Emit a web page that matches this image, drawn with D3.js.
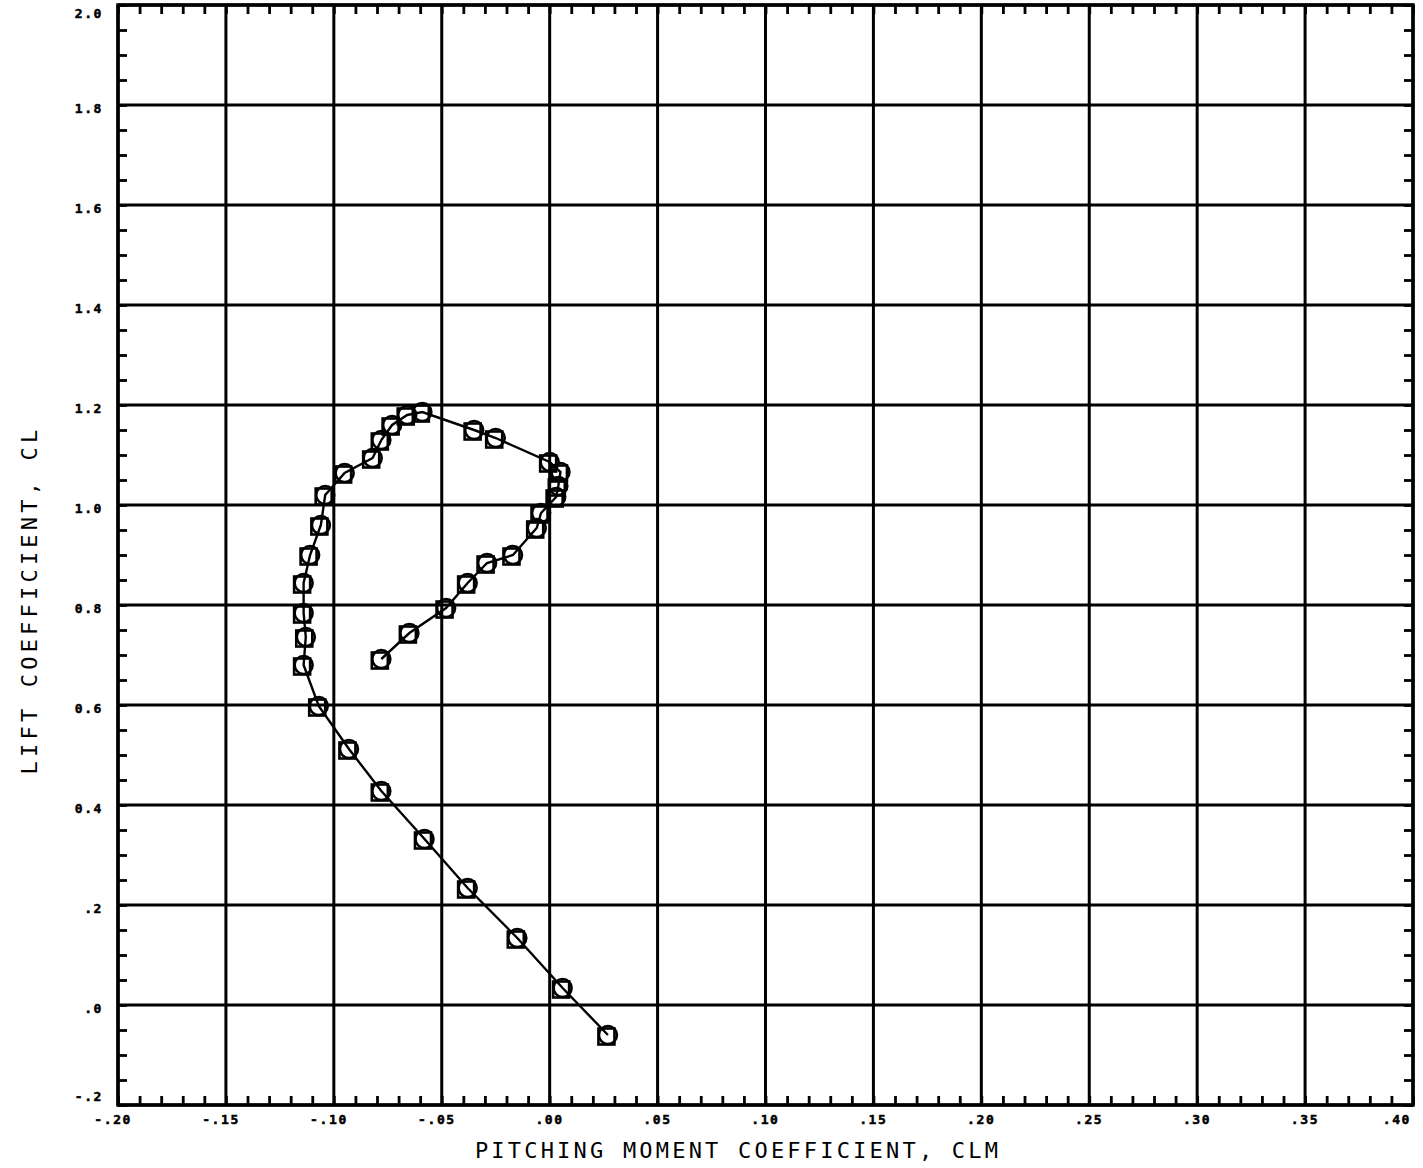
<!DOCTYPE html>
<html>
<head>
<meta charset="utf-8">
<script src="https://cdn.jsdelivr.net/npm/d3@7"></script>
<style>
  html, body { margin: 0; padding: 0; background: #fff; }
  svg { display: block; }
  .tickLabel { font-family: "DejaVu Sans Mono", monospace; font-weight: bold; font-size: 13px; letter-spacing: 1.6px; fill: #000; stroke: #000; stroke-width: 0.5px; }
  .axisTitle { font-family: "DejaVu Sans Mono", monospace; font-size: 22px; fill: #000; }
</style>
</head>
<body>
<div id="chart"></div>
<script>
// pitching moment (CLM) vs lift (CL), in plotting order
const clm = [0.027, 0.006, -0.015, -0.038, -0.058, -0.078, -0.093, -0.107, -0.114, -0.113,
  -0.114, -0.114, -0.111, -0.106, -0.104, -0.095, -0.082, -0.078, -0.073, -0.066,
  -0.059, -0.035, -0.025, 0.000, 0.005, 0.004, 0.003, -0.004, -0.006, -0.017,
  -0.029, -0.038, -0.048, -0.065, -0.078];
const cl = [-0.060, 0.034, 0.134, 0.234, 0.332, 0.428, 0.512, 0.598, 0.680, 0.736,
  0.784, 0.844, 0.900, 0.960, 1.020, 1.064, 1.094, 1.130, 1.160, 1.180,
  1.186, 1.150, 1.134, 1.086, 1.066, 1.038, 1.016, 0.984, 0.954, 0.900,
  0.884, 0.844, 0.794, 0.744, 0.692];

const xTicks = [-0.20, -0.15, -0.10, -0.05, 0.00, 0.05, 0.10, 0.15, 0.20, 0.25, 0.30, 0.35, 0.40];
const xTickLabels = ["-.20", "-.15", "-.10", "-.05", ".00", ".05", ".10", ".15", ".20", ".25", ".30", ".35", ".40"];
const yTicks = [-0.2, 0.0, 0.2, 0.4, 0.6, 0.8, 1.0, 1.2, 1.4, 1.6, 1.8, 2.0];
const yTickLabels = ["-.2", ".0", ".2", "0.4", "0.6", "0.8", "1.0", "1.2", "1.4", "1.6", "1.8", "2.0"];

const margin = {top: 5, right: 10, bottom: 63, left: 118}
    , width = 1295
    , height = 1100;

const svg = d3.select("#chart").append("svg")
    .attr("width", 1423)
    .attr("height", 1168);

const g = svg.append("g")
    .attr("transform", `translate(${margin.left},${margin.top})`);

const x = d3.scaleLinear().domain([-0.20, 0.40]).range([0, width]);
const y = d3.scaleLinear().domain([-0.2, 2.0]).range([height, 0]);

// major grid
g.append("g").attr("class", "grid")
    .selectAll("line.v")
    .data(xTicks)
    .enter().append("line")
    .attr("x1", d => x(d)).attr("x2", d => x(d))
    .attr("y1", 0).attr("y2", height)
    .attr("stroke", "#000").attr("stroke-width", 3);

g.append("g").attr("class", "grid")
    .selectAll("line.h")
    .data(yTicks)
    .enter().append("line")
    .attr("x1", 0).attr("x2", width)
    .attr("y1", d => y(d)).attr("y2", d => y(d))
    .attr("stroke", "#000").attr("stroke-width", 3);

// minor ticks pointing inward on all four sides
const minorX = d3.range(-20, 41).map(i => i / 100);
const minorY = d3.range(-4, 41).map(i => i / 20);

function styleAxis(sel) {
    sel.select(".domain").remove();
    sel.selectAll("text").remove();
    sel.selectAll("line").attr("stroke", "#000").attr("stroke-width", 2.8);
}

g.append("g").attr("transform", `translate(0,${height})`)
    .call(d3.axisBottom(x).tickValues(minorX).tickSize(-9)).call(styleAxis);
g.append("g")
    .call(d3.axisTop(x).tickValues(minorX).tickSize(-9)).call(styleAxis);
g.append("g")
    .call(d3.axisLeft(y).tickValues(minorY).tickSize(-9)).call(styleAxis);
g.append("g").attr("transform", `translate(${width},0)`)
    .call(d3.axisRight(y).tickValues(minorY).tickSize(-9)).call(styleAxis);

// frame
g.append("rect")
    .attr("width", width).attr("height", height)
    .attr("fill", "none").attr("stroke", "#000").attr("stroke-width", 3.5);

// tick labels
g.append("g").selectAll("text")
    .data(xTicks)
    .enter().append("text")
    .attr("class", "tickLabel")
    .attr("x", (d, i) => x(d) + (i === xTicks.length - 1 ? -2 : 14))
    .attr("y", height + 19)
    .attr("text-anchor", "end")
    .text((d, i) => xTickLabels[i]);

g.append("g").selectAll("text")
    .data(yTicks)
    .enter().append("text")
    .attr("class", "tickLabel")
    .attr("x", -15)
    .attr("y", (d, i) => y(d) + (i === yTicks.length - 1 ? 13 : (i === 0 ? -4 : 8)))
    .attr("text-anchor", "end")
    .text((d, i) => yTickLabels[i]);

// axis titles
svg.append("text").attr("class", "axisTitle")
    .attr("x", 738).attr("y", 1158)
    .attr("text-anchor", "middle")
    .style("letter-spacing", "3.2px")
    .text("PITCHING MOMENT COEFFICIENT, CLM");

svg.append("text").attr("class", "axisTitle")
    .attr("transform", "translate(37,600) rotate(-90)")
    .attr("text-anchor", "middle")
    .style("letter-spacing", "4.2px")
    .text("LIFT COEFFICIENT, CL");

// data curve
const pts = clm.map((d, i) => [d, cl[i]]);
const line = d3.line().x(d => x(d[0])).y(d => y(d[1]));

g.append("path")
    .datum(pts)
    .attr("d", line)
    .attr("fill", "none")
    .attr("stroke", "#000")
    .attr("stroke-width", 2.4);

const marks = g.append("g").selectAll("g")
    .data(pts)
    .enter().append("g")
    .attr("transform", d => `translate(${x(d[0])},${y(d[1])})`);

marks.append("rect")
    .attr("x", -9.5).attr("y", -6.5)
    .attr("width", 16).attr("height", 16)
    .attr("fill", "none").attr("stroke", "#000").attr("stroke-width", 2.6);

marks.append("circle")
    .attr("r", 9)
    .attr("fill", "none").attr("stroke", "#000").attr("stroke-width", 2.6);
</script>
</body>
</html>
